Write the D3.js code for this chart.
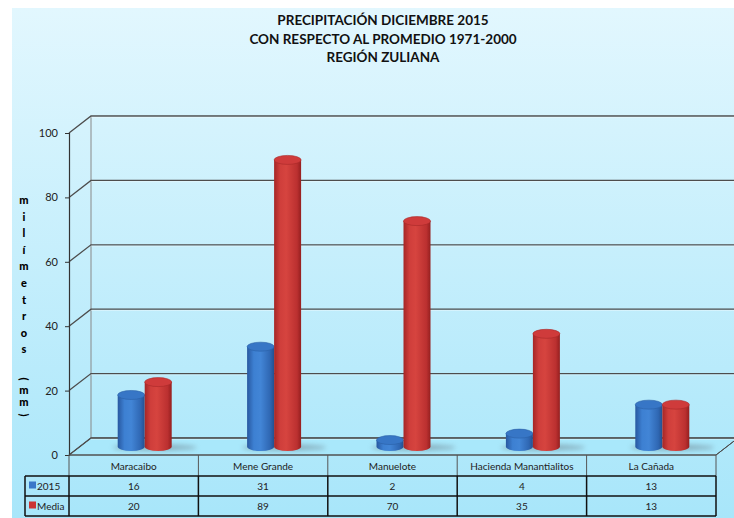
<!DOCTYPE html>
<html>
<head>
<meta charset="utf-8">
<script src="https://cdn.jsdelivr.net/npm/d3@7/dist/d3.min.js"></script>
<style>
  html, body { margin: 0; padding: 0; background: #ffffff; }
  svg { display: block; }
</style>
</head>
<body>
<svg id="chart" width="734" height="518"></svg>
<script>
// Rainfall data, December 2015 vs. 1971-2000 mean
const categories = ["Maracaibo", "Mene Grande", "Manuelote", "Hacienda Manantialitos", "La Cañada"];
const seriesNames = ["2015", "Media"];
const values2015 = [16, 31, 2, 4, 13];
const valuesMedia = [20, 89, 70, 35, 13];
const yTicks = [0, 20, 40, 60, 80, 100];
const titleLines = ["PRECIPITACIÓN DICIEMBRE 2015", "CON RESPECTO AL PROMEDIO 1971-2000", "REGIÓN ZULIANA"];
const axisLabel = "milímetros (mm)";

const W = 734, H = 518;
const svg = d3.select("#chart");
const font = "Lato, 'Open Sans', sans-serif";

// 3D depth offset of the plot box
const DX = 22, DY = -17;

const x0 = 69, x1 = 716;
const y = d3.scaleLinear().domain([0, 100]).range([455, 133]);
const x = d3.scaleBand().domain(categories).range([x0, x1]).padding(0);
const seriesColor = { "2015": "#3b78c9", "Media": "#cc3333" };

const defs = svg.append("defs");

// background
const bg = defs.append("linearGradient").attr("id", "bg").attr("x1", 0).attr("y1", 0).attr("x2", 0).attr("y2", 1);
bg.append("stop").attr("offset", "0%").attr("stop-color", "#e2f7fe");
bg.append("stop").attr("offset", "100%").attr("stop-color", "#a8e6fa");
svg.append("rect").attr("x", 12).attr("y", 8).attr("width", W - 12).attr("height", H - 8).attr("fill", "url(#bg)");

// cylinder side gradients
function cylGrad(id, stops) {
  const g = defs.append("linearGradient").attr("id", id).attr("x1", 0).attr("y1", 0).attr("x2", 1).attr("y2", 0);
  stops.forEach(s => g.append("stop").attr("offset", s[0]).attr("stop-color", s[1]));
}
cylGrad("side2015", [["0%", "#2858a0"], ["25%", "#3d80d2"], ["50%", "#4285d6"], ["85%", "#2f67b3"], ["100%", "#24508f"]]);
cylGrad("sideMedia", [["0%", "#a52626"], ["22%", "#cf3e3b"], ["45%", "#d6443f"], ["85%", "#bb3030"], ["100%", "#951f1f"]]);
const topColor = { "2015": "#3776c6", "Media": "#cf3b3b" };
const sideFill = { "2015": "url(#side2015)", "Media": "url(#sideMedia)" };

const blur = defs.append("filter").attr("id", "shadowBlur").attr("x", "-50%").attr("y", "-100%").attr("width", "200%").attr("height", "300%");
blur.append("feGaussianBlur").attr("stdDeviation", 2.5);

// title
svg.append("g").selectAll("text").data(titleLines).join("text")
  .attr("x", 383).attr("y", (d, i) => 25 + i * 18.5)
  .attr("text-anchor", "middle")
  .attr("font-family", font).attr("font-weight", "bold").attr("font-size", 13.5)
  .attr("fill", "#111")
  .text(d => d);

// walls and gridlines
const grid = svg.append("g");
const gridColor = "#4d4d4d";
// floor
grid.append("path")
  .attr("d", `M${x0},${y(0)}L${x1},${y(0)}L${x1 + DX},${y(0) + DY}L${x0 + DX},${y(0) + DY}Z`)
  .attr("fill", "#a9e8fb").attr("stroke", gridColor).attr("stroke-width", 1);
// back wall left edge
grid.append("line")
  .attr("x1", x0 + DX).attr("y1", y(0) + DY).attr("x2", x0 + DX).attr("y2", y(100) + DY)
  .attr("stroke", "#888").attr("stroke-width", 1);
yTicks.forEach(v => {
  grid.append("path")
    .attr("d", `M${x0},${y(v)}L${x0 + DX},${y(v) + DY}L${W + 10},${y(v) + DY}`)
    .attr("fill", "none").attr("stroke", gridColor).attr("stroke-width", 1.3);
  grid.append("path")
    .attr("d", `M${x0 + DX},${y(v) + DY + 1.3}L${W + 10},${y(v) + DY + 1.3}`)
    .attr("fill", "none").attr("stroke", "#ffffff").attr("stroke-opacity", 0.35).attr("stroke-width", 1);
});

// y axis
const yAxis = d3.axisLeft(y).tickValues(yTicks).tickSize(4).tickPadding(7);
const gy = svg.append("g").attr("transform", `translate(${x0},0)`).call(yAxis);
gy.select(".domain").attr("stroke", "#333").attr("stroke-width", 1.2);
gy.selectAll(".tick line").attr("stroke", "#333");
gy.selectAll(".tick text").attr("font-family", font).attr("font-size", 11).attr("fill", "#222");

// stacked vertical axis title: one character per line
const lab = svg.append("g");
let ly = 204;
let inUnits = false;
axisLabel.split("").forEach(ch => {
  if (ch === " ") { ly += 12; inUnits = true; return; }
  const t = lab.append("text")
    .attr("font-family", font).attr("font-weight", 900).attr("font-size", 11)
    .attr("fill", "#000").attr("text-anchor", "middle")
    .text(ch);
  if (ch === "(" || ch === ")") {
    t.attr("transform", `translate(24,${ly - 3}) rotate(90)`).attr("dy", "0.32em");
    ly += 12;
  } else {
    t.attr("x", 24).attr("y", ly);
    ly += inUnits ? 12 : 16.6;
  }
});

// cylinders
const bars = [];
categories.forEach((c, i) => {
  [values2015[i], valuesMedia[i]].forEach((v, j) => {
    bars.push({ cat: c, series: seriesNames[j], value: v, j });
  });
});
const barW = 27, ry = 4.5;
const pairCenter = c => x(c) + x.bandwidth() / 2 + DX / 2;
const base = y(0) + DY / 2;

const gShadow = svg.append("g");
categories.forEach(c => {
  gShadow.append("ellipse")
    .attr("cx", pairCenter(c) + 10).attr("cy", base + 1)
    .attr("rx", 42).attr("ry", 3)
    .attr("fill", "#6a7f8a").attr("opacity", 0.55)
    .attr("filter", "url(#shadowBlur)");
});

const gBars = svg.append("g");
bars.forEach(b => {
  const left = pairCenter(b.cat) - barW + b.j * barW;
  const cx = left + barW / 2;
  const top = y(b.value) + DY / 2;
  const g = gBars.append("g");
  g.append("path")
    .attr("d", `M${left},${top}L${left},${base}A${barW / 2},${ry} 0 0 0 ${left + barW},${base}L${left + barW},${top}Z`)
    .attr("fill", sideFill[b.series]);
  g.append("ellipse")
    .attr("cx", cx).attr("cy", top).attr("rx", barW / 2).attr("ry", ry)
    .attr("fill", topColor[b.series]).attr("stroke", b.series === "2015" ? "#2a5fa6" : "#a82828").attr("stroke-width", 0.6);
});

// data table
const table = svg.append("g");
const rowTop = [455, 476, 496, 516];
const legendLeft = 25;
const borderGray = "#555";
// category row
table.append("line").attr("x1", x0).attr("x2", x1).attr("y1", rowTop[0]).attr("y2", rowTop[0]).attr("stroke", borderGray).attr("stroke-width", 1);
categories.forEach(c => {
  table.append("text")
    .attr("x", x(c) + x.bandwidth() / 2).attr("y", (rowTop[0] + rowTop[1]) / 2 + 4)
    .attr("text-anchor", "middle").attr("font-family", font).attr("font-size", 10).attr("fill", "#222")
    .text(c);
});
const cuts = [x0].concat(categories.map(c => x(c) + x.bandwidth()));
cuts.forEach(cx => {
  table.append("line").attr("x1", cx).attr("x2", cx).attr("y1", rowTop[0]).attr("y2", rowTop[1]).attr("stroke", borderGray).attr("stroke-width", 1);
});
// value rows
const rowsData = [values2015, valuesMedia];
[rowTop[1], rowTop[2], rowTop[3]].forEach(ry0 => {
  table.append("line").attr("x1", legendLeft).attr("x2", x1).attr("y1", ry0).attr("y2", ry0).attr("stroke", "#111").attr("stroke-width", 1.5);
});
[legendLeft].concat(cuts).forEach(cx => {
  table.append("line").attr("x1", cx).attr("x2", cx).attr("y1", rowTop[1]).attr("y2", rowTop[3]).attr("stroke", "#111").attr("stroke-width", 1.5);
});
rowsData.forEach((vals, r) => {
  const cy = (rowTop[r + 1] + rowTop[r + 2]) / 2;
  table.append("rect").attr("x", 29).attr("y", cy - 4.5).attr("width", 7).attr("height", 7)
    .attr("fill", seriesColor[seriesNames[r]]);
  table.append("text").attr("x", 37).attr("y", cy + 3.5)
    .attr("font-family", font).attr("font-size", 10).attr("fill", "#222").text(seriesNames[r]);
  vals.forEach((v, i) => {
    table.append("text")
      .attr("x", x(categories[i]) + x.bandwidth() / 2).attr("y", cy + 4)
      .attr("text-anchor", "middle").attr("font-family", font).attr("font-size", 10).attr("fill", "#222")
      .text(v);
  });
});
// floor right depth edge
svg.append("line").attr("x1", x1).attr("y1", y(0)).attr("x2", x1 + DX).attr("y2", y(0) + DY).attr("stroke", gridColor).attr("stroke-width", 1);
</script>
</body>
</html>
